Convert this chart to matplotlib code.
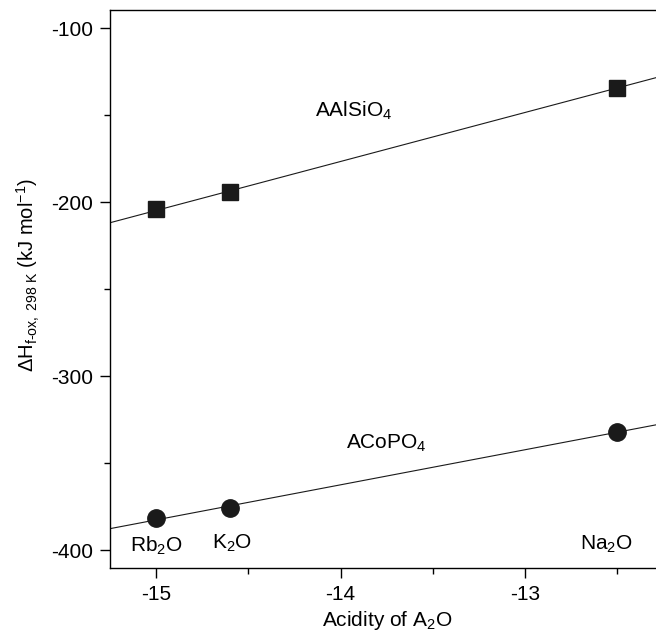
import matplotlib
matplotlib.use('Agg')
import matplotlib.pyplot as plt
import numpy as np
from matplotlib.ticker import MultipleLocator

plt.rcParams['font.family'] = 'Liberation Sans'
plt.rcParams['mathtext.fontset'] = 'custom'
plt.rcParams['mathtext.rm'] = 'Liberation Sans'
plt.rcParams['mathtext.it'] = 'Liberation Sans:italic'
plt.rcParams['mathtext.bf'] = 'Liberation Sans:bold'
plt.rcParams['axes.unicode_minus'] = False

# acidity of A2O for Rb2O, K2O, Na2O
acidity = [-15.0, -14.6, -12.5]
oxideLabels = ['Rb$_2$O', 'K$_2$O', 'Na$_2$O']
aalsio4 = [-204.2, -194.3, -134.3]
acopo4 = [-381.4, -376.0, -332.0]

fig = plt.figure(figsize=(6.56, 6.34), dpi=100)
ax = fig.add_axes([0.1677, 0.104, 0.8323, 0.880])

xmin, xmax = -15.25, -12.29
xfit = np.array([xmin, xmax])
for vals, marker, ms in [(aalsio4, 's', 12), (acopo4, 'o', 12.5)]:
    k, b = np.polyfit(acidity, vals, 1)
    ax.plot(xfit, k * xfit + b, color='#1a1a1a', lw=0.8, zorder=2)
    ax.plot(acidity, vals, marker, color='#1a1a1a', ms=ms, zorder=3)

fs = 15
ax.text(-13.93, -151, 'AAlSiO$_4$', fontsize=fs, ha='center', va='baseline')
ax.text(-13.75, -341.6, 'ACoPO$_4$', fontsize=fs, ha='center', va='baseline')
ax.text(-15.0, -401.1, oxideLabels[0], fontsize=fs, ha='center', va='baseline')
ax.text(-14.59, -399.4, oxideLabels[1], fontsize=fs, ha='center', va='baseline')
ax.text(-12.56, -400.0, oxideLabels[2], fontsize=fs, ha='center', va='baseline')

ax.set_xlim(xmin, xmax)
ax.set_ylim(-410.3, -89.7)
ax.xaxis.set_major_locator(MultipleLocator(1))
ax.xaxis.set_minor_locator(MultipleLocator(0.5))
ax.yaxis.set_major_locator(MultipleLocator(100))
ax.yaxis.set_minor_locator(MultipleLocator(50))
ax.tick_params(which='major', direction='out', length=7, width=1, labelsize=fs, pad=5.5)
ax.tick_params(which='minor', direction='out', length=4, width=1)
ax.spines['right'].set_visible(False)
for s in ['left', 'bottom', 'top']:
    ax.spines[s].set_linewidth(1.0)

fig.text(387 / 656, 1 - 626 / 634, 'Acidity of A$_2$O', fontsize=fs, ha='center', va='baseline')
fig.text(28 / 656, 1 - 275 / 634, 'ΔH$_{\\mathrm{f\u2010ox,\\ 298\\ K}}$ (kJ mol$^{-1}$)',
         fontsize=14.5, ha='center', va='center', rotation=90)

fig.savefig('out.png', dpi=100)
